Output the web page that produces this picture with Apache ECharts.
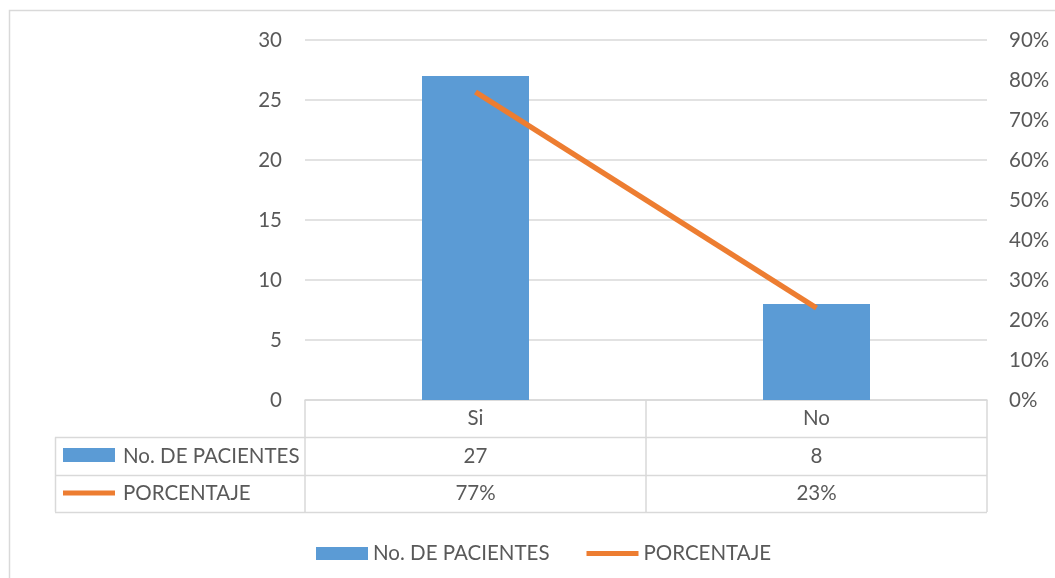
<!DOCTYPE html>
<html>
<head>
    <meta charset="utf-8">
    <title>No. de pacientes y porcentaje</title>
    <script src="https://cdn.jsdelivr.net/npm/echarts@6/dist/echarts.min.js"></script>
    <style>
        body { margin: 0; background: #fff; }
        #chart { width: 1055px; height: 578px; }
    </style>
</head>
<body>
<div id="chart"></div>
<script>
// datos
const categorias = ['Si', 'No'];
const pacientes = [27, 8];
const porcentaje = [77, 23];
const nombres = ['No. DE PACIENTES', 'PORCENTAJE'];

const azul = '#5B9BD5';
const naranja = '#ED7D31';
const gris = '#d9d9d9';
const texto = '#595959';
const fuente = 'Lato, "Liberation Sans", sans-serif';
const tam = 20.5;

// posiciones de la tabla
const G = { left: 305, right: 987, top: 40, bottom: 400 };
const fila = 37.3;
const tablaIzq = 55;

let chart = echarts.init(document.getElementById('chart'));

const lineasTabla = [];
for (let i = 1; i <= 3; i++) {
    const y = Math.round(G.bottom + fila * i) + 0.5;
    lineasTabla.push({
        type: 'line',
        shape: { x1: tablaIzq, y1: y, x2: G.right, y2: y },
        style: { stroke: gris, lineWidth: 1.5 }
    });
}
lineasTabla.push({
    type: 'line',
    shape: { x1: tablaIzq + 0.5, y1: G.bottom + fila, x2: tablaIzq + 0.5, y2: G.bottom + fila * 3 },
    style: { stroke: gris, lineWidth: 1.5 }
});

let option = {
    animation: false,
    textStyle: { fontFamily: fuente },
    grid: {
        left: G.left,
        right: 1055 - G.right,
        top: G.top,
        bottom: 578 - G.bottom
    },
    legend: {
        top: 538,
        left: 311,
        itemWidth: 52,
        itemHeight: 13,
        itemGap: 37,
        textStyle: { color: texto, fontSize: tam, fontFamily: fuente },
        data: [
            { name: nombres[0], icon: 'rect' },
            { name: nombres[1], icon: 'path://M0 0H52V5H0Z' }
        ]
    },
    xAxis: {
        type: 'category',
        data: categorias,
        axisLine: { lineStyle: { color: gris, width: 1.5 } },
        axisTick: { show: true, length: Math.round(fila * 3), lineStyle: { color: gris, width: 1.5 } },
        axisLabel: {
            margin: 0,
            formatter: (v, i) => `{t|${v}}\n{t|${pacientes[i]}}\n{t|${porcentaje[i]}%}`,
            rich: {
                t: { fontSize: tam, lineHeight: fila, color: texto, fontFamily: fuente }
            }
        }
    },
    yAxis: [{
        type: 'value',
        min: 0,
        max: 30,
        interval: 5,
        axisLine: { show: false },
        axisTick: { show: false },
        axisLabel: { margin: 23, fontSize: tam, color: texto, fontFamily: fuente },
        splitLine: { lineStyle: { color: gris, width: 1.5 } }
    }, {
        type: 'value',
        min: 0,
        max: 90,
        interval: 10,
        position: 'right',
        axisLine: { show: false },
        axisTick: { show: false },
        splitLine: { show: false },
        axisLabel: {
            margin: 22,
            fontSize: tam,
            color: texto,
            fontFamily: fuente,
            formatter: '{value}%'
        }
    }],
    series: [{
        type: 'bar',
        name: nombres[0],
        data: pacientes,
        barWidth: 107,
        itemStyle: { color: azul }
    }, {
        type: 'line',
        name: nombres[1],
        yAxisIndex: 1,
        data: porcentaje,
        symbol: 'none',
        lineStyle: { color: naranja, width: 5.5 },
        itemStyle: { color: naranja }
    }],
    graphic: [
        {
            type: 'rect',
            shape: { x: 9.5, y: 10.5, width: 1200, height: 700 },
            style: { fill: 'none', stroke: gris, lineWidth: 1.5 },
            silent: true
        },
        ...lineasTabla,
        {
            type: 'rect',
            shape: { x: 63, y: 448, width: 52, height: 14 },
            style: { fill: azul }
        },
        {
            type: 'text',
            x: 123,
            y: G.bottom + fila * 1.5,
            style: { text: nombres[0], fill: texto, font: tam + 'px ' + fuente, verticalAlign: 'middle' }
        },
        {
            type: 'rect',
            shape: { x: 63, y: 490.5, width: 52, height: 5 },
            style: { fill: naranja }
        },
        {
            type: 'text',
            x: 123,
            y: G.bottom + fila * 2.5,
            style: { text: nombres[1], fill: texto, font: tam + 'px ' + fuente, verticalAlign: 'middle' }
        }
    ]
};

chart.setOption(option);
</script>
</body>
</html>
